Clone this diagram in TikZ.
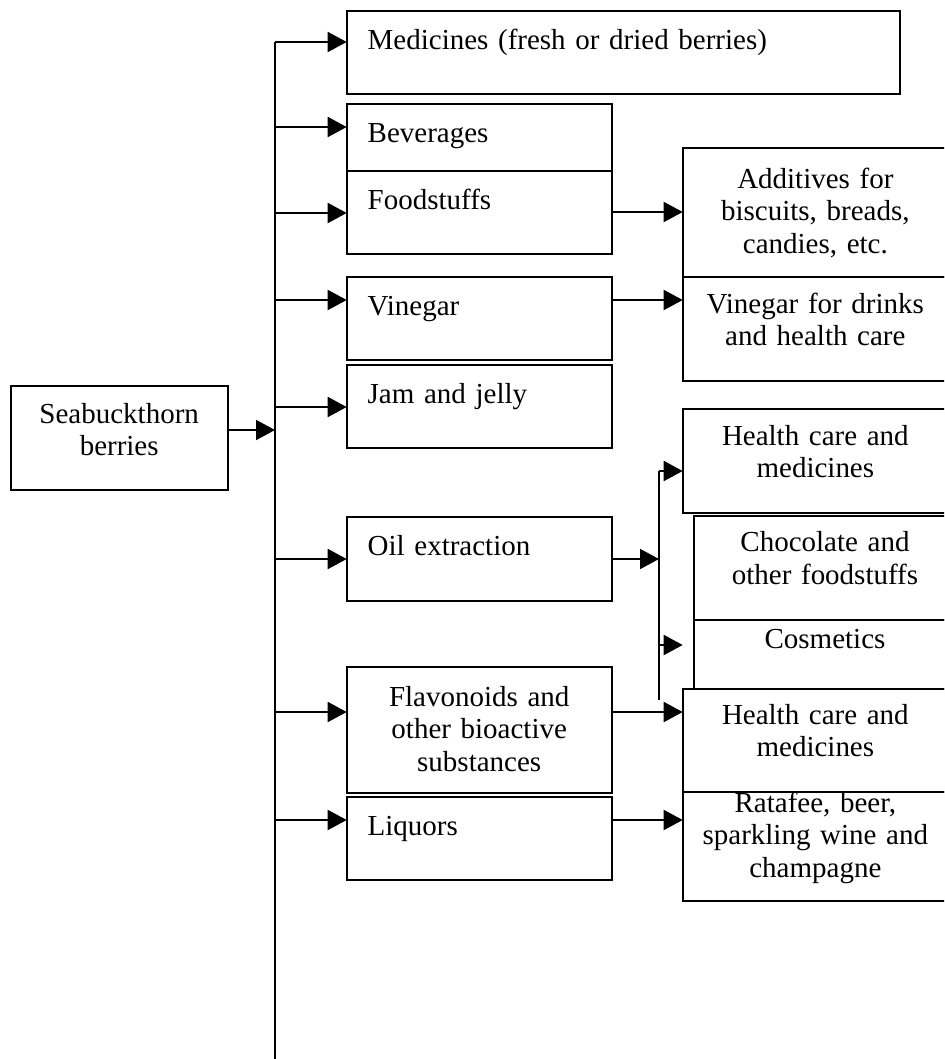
\documentclass[tikz,border=0pt]{standalone}
\usepackage{fontspec}
\setmainfont{Liberation Serif}
\usepackage{tikz}
\usetikzlibrary{arrows.meta}
\newlength{\pxu}
\setlength{\pxu}{0.02cm}

\begin{document}
\begin{tikzpicture}[x=0.02cm,y=-0.02cm,
	lbox/.style={draw,line width=1.1pt,anchor=north west,outer sep=0pt,inner ysep=0pt,inner xsep=21\pxu,align=left,text width=223\pxu,font=\fontsize{16.5pt}{18.5pt}\selectfont},
	cbox/.style={lbox,inner xsep=5\pxu,align=center,text width=255.3\pxu},
	arr/.style={line width=1.1pt,-{Triangle[length=0.38cm,width=0.4cm]}}]
					\path[use as bounding box,clip] (0,0) rectangle (944,1059);
					\node[lbox,text height=39\pxu,text depth=44.3\pxu,text width=511.3\pxu] (med) at (346.7,10.7) {Medicines (fresh or dried berries)};
					\node[lbox,text height=38.7\pxu,text depth=28.3\pxu] (bev) at (346.7,104) {Beverages};
					\node[lbox,text height=38\pxu,text depth=45.3\pxu] (food) at (346.7,171) {Foodstuffs};
					\node[lbox,text height=38.5\pxu,text depth=44.5\pxu] (vin) at (346.7,277) {Vinegar};
					\node[lbox,text height=38.5\pxu,text depth=44.8\pxu] (jam) at (346.7,365) {Jam and jelly};
					\node[lbox,text height=37.7\pxu,text depth=45.7\pxu] (oil) at (346.7,517.3) {Oil extraction};
					\node[cbox,text height=39\pxu,text depth=86.7\pxu,text width=255\pxu] (flav) at (346.7,667) {Flavonoids and\\other bioactive\\substances};
					\node[lbox,text height=38\pxu,text depth=45\pxu] (liq) at (346.7,797) {Liquors};
					\node[cbox,text height=37.3\pxu,text depth=67\pxu,text width=207\pxu] (src) at (10.7,385.7) {Seabuckthorn\\berries};
					\node[cbox,text height=40\pxu,text depth=89\pxu] (add) at (682.7,148) {Additives for\\biscuits, breads,\\candies, etc.};
					\node[cbox,text height=36\pxu,text depth=67.7\pxu] (vdr) at (682.7,277) {Vinegar for drinks\\and health care};
					\node[cbox,text height=36\pxu,text depth=68\pxu] (hc1) at (682.7,409) {Health care and\\medicines};
					\node[cbox,text height=35.7\pxu,text depth=68.3\pxu,text width=252\pxu] (choc) at (694,516) {Chocolate and\\other foodstuffs};
					\node[cbox,text height=28\pxu,text depth=41\pxu,text width=252\pxu] (cosm) at (694,620) {Cosmetics};
					\node[cbox,text height=35\pxu,text depth=68\pxu] (hc2) at (682.7,689) {Health care and\\medicines};
					\node[cbox,text height=20\pxu,text depth=89\pxu] (rat) at (682.7,792) {Ratafee, beer,\\sparkling wine and\\champagne};
					\coordinate (trunk) at (275,42);
					\coordinate (trunkend) at (275,1059);
					\draw[line width=1.2pt] (trunk) -- (trunkend);
					\foreach \y/\b in {42/med,127/bev,213/food,300/vin,407/jam,559/oil,712/flav,820/liq}
						\draw[arr] (trunk |- 0,\y) -- (\b.west |- 0,\y);
					\draw[arr] (src.east |- 0,430) -- (trunk |- 0,430);
					\draw[arr] (food.east |- 0,212) -- (add.west |- 0,212);
					\draw[arr] (vin.east |- 0,300) -- (vdr.west |- 0,300);
					\coordinate (branch) at (659,471);
					\coordinate (branchend) at (659,700);
					\draw[line width=1.1pt] (branch) -- (branchend);
					\draw[arr] (oil.east) -- (oil.east -| branch);
					\draw[arr] (branch) -- (branch -| hc1.west);
					\draw[arr] (branch |- 0,645) -- (hc1.west |- 0,645);
					\draw[arr] (flav.east |- 0,712) -- (hc2.west |- 0,712);
					\draw[arr] (liq.east |- 0,820) -- (rat.west |- 0,820);
\end{tikzpicture}
\end{document}
